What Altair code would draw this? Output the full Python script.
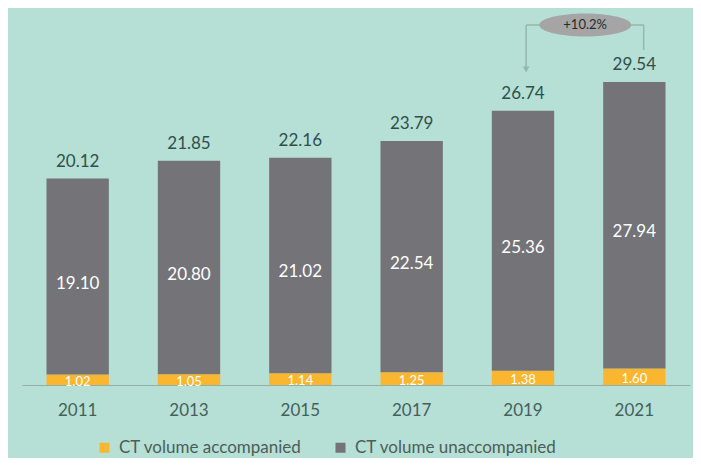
import altair as alt
import pandas as pd

years = ["2011", "2013", "2015", "2017", "2019", "2021"]
accompanied = [1.02, 1.05, 1.14, 1.25, 1.38, 1.60]
unaccompanied = [19.10, 20.80, 21.02, 22.54, 25.36, 27.94]
totals = [20.12, 21.85, 22.16, 23.79, 26.74, 29.54]
series = ["CT volume accompanied", "CT volume unaccompanied"]
growth_label = "+10.2%"

rows = []
for y, a, u in zip(years, accompanied, unaccompanied):
    rows.append({"year": y, "series": series[0], "value": a, "ord": 0, "mid": a / 2, "label": f"{a:.2f}"})
    rows.append({"year": y, "series": series[1], "value": u, "ord": 1, "mid": a + u / 2, "label": f"{u:.2f}"})
df = pd.DataFrame(rows)
tot = pd.DataFrame({"year": years, "total": totals, "label": [f"{t:.2f}" for t in totals]})

BG = "#b6e0d5"
FONT = "Lato"

x = alt.X("year:N", title=None, sort=years,
          scale=alt.Scale(paddingInner=0.44, paddingOuter=0.22),
          axis=alt.Axis(labelFontSize=17, labelColor="#44605a", labelFont=FONT,
                        tickSize=0, labelPadding=17, domainColor="#8fb0a8",
                        domainWidth=1, labelAngle=0))
yscale = alt.Scale(domain=[0, 36.55], nice=False)

bars = alt.Chart(df).mark_bar().encode(
    x=x,
    y=alt.Y("value:Q", stack="zero", scale=yscale, axis=None, title=None),
    color=alt.Color("series:N", scale=alt.Scale(domain=series, range=["#fbb630", "#737378"]),
                    legend=alt.Legend(title=None, orient="none", legendX=74, legendY=429,
                                      direction="horizontal", symbolType="square",
                                      symbolSize=100, symbolStrokeWidth=0,
                                      labelFontSize=17, labelFont=FONT, labelColor="#4a5e5a",
                                      labelLimit=0, labelOffset=6,
                                      columnPadding=30, symbolOpacity=1)),
    order=alt.Order("ord:Q"),
)

inner = alt.Chart(df[df["ord"] == 1]).mark_text(color="white", fontSize=17, font=FONT, dy=7).encode(
    x=alt.X("year:N", sort=years), y=alt.Y("mid:Q", scale=yscale), text="label:N")
acc = alt.Chart(df[df["ord"] == 0]).mark_text(color="white", fontSize=13, font=FONT, dy=2).encode(
    x=alt.X("year:N", sort=years), y=alt.Y("mid:Q", scale=yscale), text="label:N")
top = alt.Chart(tot).mark_text(color="#2f4f4a", fontSize=17, font=FONT, dy=-17).encode(
    x=alt.X("year:N", sort=years), y=alt.Y("total:Q", scale=yscale), text="label:N")

# annotation connectors
ann_y = 35.1
LC = "#93b8ae"
conn_h = alt.Chart(pd.DataFrame({"a": ["2019"], "b": ["2021"], "y": [ann_y]})).mark_rule(
    color=LC, strokeWidth=1.5).encode(
    x=alt.X("a:N", sort=years, bandPosition=0.55), x2=alt.X2("b:N", bandPosition=0.65),
    y=alt.Y("y:Q", scale=yscale))
conn_l = alt.Chart(pd.DataFrame({"a": ["2019"], "y": [ann_y], "y2": [30.7]})).mark_rule(
    color=LC, strokeWidth=1.5).encode(
    x=alt.X("a:N", sort=years, bandPosition=0.55), y=alt.Y("y:Q", scale=yscale), y2="y2:Q")
conn_r = alt.Chart(pd.DataFrame({"a": ["2021"], "y": [ann_y], "y2": [32.65]})).mark_rule(
    color=LC, strokeWidth=1.5).encode(
    x=alt.X("a:N", sort=years, bandPosition=0.65), y=alt.Y("y:Q", scale=yscale), y2="y2:Q")
arrow = alt.Chart(pd.DataFrame({"a": ["2019"], "y": [30.75]})).mark_point(
    shape="triangle-down", filled=True, color=LC, size=45, opacity=1).encode(
    x=alt.X("a:N", sort=years, bandPosition=0.55), y=alt.Y("y:Q", scale=yscale))
# ellipse centred ~18px left of the 2021 band start
ell_path = "M -1.39 0 A 1 0.25 0 1 0 0.61 0 A 1 0.25 0 1 0 -1.39 0 Z"
ann = pd.DataFrame({"a": ["2021"], "y": [ann_y], "t": [growth_label]})
ellipse = alt.Chart(ann).mark_point(
    shape=ell_path, filled=True, color="#a5a5a5", size=8464, opacity=1).encode(
    x=alt.X("a:N", sort=years, bandPosition=0), y=alt.Y("y:Q", scale=yscale))
ell_text = alt.Chart(ann).mark_text(
    fontSize=13, font=FONT, color="#2a2a2a", dx=-18).encode(
    x=alt.X("a:N", sort=years, bandPosition=0), y=alt.Y("y:Q", scale=yscale), text="t:N")

chart = alt.layer(bars, inner, acc, top, conn_h, conn_l, conn_r, arrow, ellipse, ell_text).properties(
    width=668, height=375, background=BG,
    padding={"left": 14, "top": 2, "right": 3, "bottom": 2},
).configure_view(stroke=None).configure_axis(grid=False)

chart.save("out.html", embed_options={"renderer": "svg", "actions": False})
